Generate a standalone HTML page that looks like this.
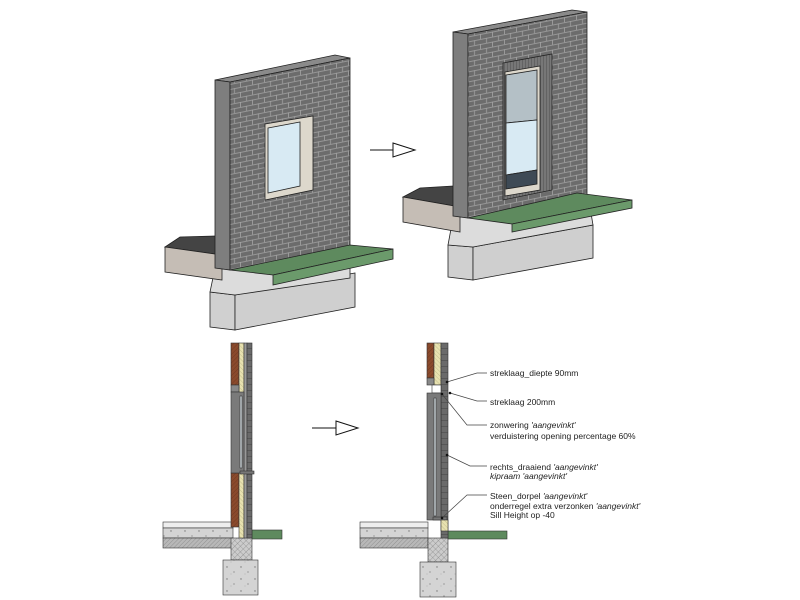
<!DOCTYPE html>
<html><head><meta charset="utf-8"><style>html,body{margin:0;padding:0;background:#fff}svg{display:block}</style></head>
<body>
<svg width="800" height="600" viewBox="0 0 800 600" xmlns="http://www.w3.org/2000/svg" font-family="Liberation Sans, Arial, sans-serif">
<defs>
<pattern id="brick" width="12" height="10" patternUnits="userSpaceOnUse" patternTransform="skewY(-11.3)">
<rect width="12" height="10" fill="#6c6c6c"/>
<path d="M0 0.5H12M0 5.5H12M0.5 0V5M6.5 5V10" stroke="#a4a4a4" stroke-width="0.8"/>
</pattern>
<pattern id="reveal" width="3" height="10" patternUnits="userSpaceOnUse">
<rect width="3" height="10" fill="#777"/><path d="M0.5 0V10" stroke="#555" stroke-width="0.6"/></pattern>
<pattern id="hatch" width="3" height="3" patternUnits="userSpaceOnUse" patternTransform="rotate(45)">
<rect width="3" height="3" fill="#8a4a2c"/><path d="M0 0V3" stroke="#6a3520" stroke-width="0.8"/></pattern>
<pattern id="ins" width="3" height="3" patternUnits="userSpaceOnUse" patternTransform="rotate(-45)">
<rect width="3" height="3" fill="#e8e2b0"/><path d="M0 0V3" stroke="#a09a70" stroke-width="0.5"/></pattern>
<pattern id="xh" width="4" height="4" patternUnits="userSpaceOnUse" patternTransform="rotate(45)">
<rect width="4" height="4" fill="#ccc"/><path d="M0 0V4M0 0H4" stroke="#777" stroke-width="0.6"/></pattern>
<pattern id="dh" width="3" height="3" patternUnits="userSpaceOnUse" patternTransform="rotate(45)">
<rect width="3" height="3" fill="#b8b8b8"/><path d="M0 0V3" stroke="#777" stroke-width="0.6"/></pattern>
<pattern id="conc" width="14" height="12" patternUnits="userSpaceOnUse">
<rect width="14" height="12" fill="#d4d4d4"/><circle cx="3" cy="3" r="0.7" fill="#777"/><circle cx="10" cy="8" r="0.6" fill="#777"/><circle cx="7" cy="10" r="0.4" fill="#888"/></pattern>
<pattern id="vb" width="4" height="6" patternUnits="userSpaceOnUse">
<rect width="4" height="6" fill="#6a6a6a"/><path d="M0 0.5H4" stroke="#444" stroke-width="0.5"/></pattern>
</defs>
<g stroke="#222" stroke-width="0.8">
<!-- LEFT 3D -->
<polygon points="210,292 235,295 235,330 210,327" fill="#d0d0d0"/>
<polygon points="235,295 355,273 355,307 235,330" fill="#cfcfcf"/>
<polygon points="215,268 350,245 350,278 235,295 210,292" fill="#dcdcdc"/>
<polygon points="165,247 180,237 215,236 222,255" fill="#444"/>
<polygon points="165,247 222,255 222,280 165,272" fill="#c5bdb5"/>
<polygon points="215,80 335,55 350,58 230,82" fill="#8a8a8a"/>
<polygon points="215,80 230,82 230,270 215,268" fill="#7e7e7e"/>
<polygon points="230,82 350,58 350,250 230,270" fill="url(#brick)"/>
<polygon points="265,124 313,116 313,190 265,200" fill="#ddd8cc"/>
<polygon points="268,128 300,122 300,186 268,193" fill="#d8eaf3"/>
<polygon points="230,270 350,245 393,249 273,275" fill="#5e8a5e"/>
<polygon points="273,275 393,249 393,259 273,285" fill="#6b9a6b"/>
<!-- RIGHT 3D -->
<polygon points="448,245 473,247 473,280 448,277" fill="#d0d0d0"/>
<polygon points="473,247 593,225 593,258 473,280" fill="#cfcfcf"/>
<polygon points="453,218 588,195 593,225 473,247 448,245" fill="#dcdcdc"/>
<polygon points="403,197 420,188 453,186 460,207" fill="#444"/>
<polygon points="403,197 460,207 460,232 403,222" fill="#c5bdb5"/>
<polygon points="453,32 572,10 587,12 468,34" fill="#8a8a8a"/>
<polygon points="453,32 468,34 468,218 453,216" fill="#7e7e7e"/>
<polygon points="468,34 587,12 587,195 468,218" fill="url(#brick)"/>
<polygon points="503,63 552,54 552,190 503,200" fill="url(#reveal)"/>
<polygon points="505,72 540,66 540,190 505,196" fill="#ddd8cc"/>
<polygon points="506,75 537,70 537,120 506,123" fill="#b4c0c6"/>
<polygon points="506,123 537,120 537,170 506,175" fill="#d8eaf3"/>
<polygon points="506,175 537,170 537,184 506,189" fill="#3e4a55"/>
<polygon points="468,218 577,193 632,200 512,224" fill="#5e8a5e"/>
<polygon points="512,224 632,200 632,208 512,232" fill="#6b9a6b"/>
</g>
<!-- arrows -->
<g stroke="#111" stroke-width="1" fill="#fff">
<line x1="370" y1="150" x2="393" y2="150"/><polygon points="393,143 415,150 393,157"/>
<line x1="312" y1="428" x2="336" y2="428"/><polygon points="336,421 358,428 336,435"/>
</g>
<!-- LEFT SECTION -->
<g stroke="#333" stroke-width="0.6">
<rect x="163" y="522" width="70" height="6" fill="#eee"/>
<rect x="163" y="528" width="70" height="10" fill="url(#conc)"/>
<rect x="163" y="538" width="70" height="10" fill="url(#dh)"/>
<rect x="231" y="538" width="21" height="22" fill="url(#xh)"/>
<rect x="223" y="560" width="35" height="35" fill="url(#conc)"/>
<rect x="252" y="530" width="30" height="9" fill="#5e8a5e"/>
<rect x="231" y="343" width="8" height="42" fill="url(#hatch)"/>
<rect x="231" y="473" width="8" height="54" fill="url(#hatch)"/>
<rect x="239" y="343" width="5" height="195" fill="url(#ins)"/>
<rect x="244" y="343" width="3" height="195" fill="#999"/>
<rect x="247" y="343" width="5" height="195" fill="url(#vb)"/>
<rect x="231" y="385" width="8" height="7" fill="#888"/>
<rect x="231" y="392" width="13" height="81" fill="#7a7a7a"/>
<rect x="240" y="396" width="2" height="72" fill="#cfd8dc"/>
<rect x="240" y="471" width="14" height="3" fill="#777"/>
</g>
<!-- RIGHT SECTION -->
<g stroke="#333" stroke-width="0.6">
<rect x="360" y="522" width="68" height="6" fill="#eee"/>
<rect x="360" y="528" width="68" height="10" fill="url(#conc)"/>
<rect x="360" y="538" width="68" height="10" fill="url(#dh)"/>
<rect x="428" y="538" width="20" height="24" fill="url(#xh)"/>
<rect x="420" y="562" width="36" height="35" fill="url(#conc)"/>
<rect x="448" y="531" width="59" height="8" fill="#5e8a5e"/>
<rect x="427" y="343" width="7" height="35" fill="url(#hatch)"/>
<rect x="434" y="343" width="7" height="42" fill="url(#ins)"/>
<rect x="441" y="343" width="7" height="195" fill="url(#vb)"/>
<rect x="427" y="378" width="7" height="7" fill="#888"/>
<rect x="432" y="385" width="9" height="8" fill="#fff"/>
<rect x="427" y="393" width="14" height="127" fill="#7a7a7a"/>
<rect x="434" y="398" width="2" height="118" fill="#cfd8dc"/>
<rect x="433" y="517" width="14" height="3" fill="#777"/>
<rect x="441" y="520" width="7" height="11" fill="url(#ins)"/>
</g>
<!-- leaders -->
<g stroke="#444" stroke-width="0.7" fill="none">
<polyline points="487,373 477,373 447,382"/>
<polyline points="487,401 477,401 450,393"/>
<polyline points="487,425 467,425 442,394"/>
<polyline points="487,466 470,466 447,455"/>
<polyline points="487,495 467,495 442,518"/>
</g>
<g fill="#111"><circle cx="447" cy="382" r="1.3"/><circle cx="450" cy="393" r="1.3"/><circle cx="442" cy="394" r="1.3"/><circle cx="447" cy="455" r="1.3"/><circle cx="442" cy="518" r="1.3"/></g>
<g font-size="8.5" fill="#222">
<text x="490" y="376">streklaag_diepte 90mm</text>
<text x="490" y="405">streklaag 200mm</text>
<text x="490" y="428">zonwering <tspan font-style="italic">'aangevinkt'</tspan></text>
<text x="490" y="439">verduistering opening percentage 60%</text>
<text x="490" y="470">rechts_draaiend <tspan font-style="italic">'aangevinkt'</tspan></text>
<text x="490" y="479" font-style="italic">kipraam 'aangevinkt'</text>
<text x="490" y="499">Steen_dorpel <tspan font-style="italic">'aangevinkt'</tspan></text>
<text x="490" y="509">onderregel extra verzonken <tspan font-style="italic">'aangevinkt'</tspan></text>
<text x="490" y="518">Sill Height op -40</text>
</g>
</svg>
</body></html>
